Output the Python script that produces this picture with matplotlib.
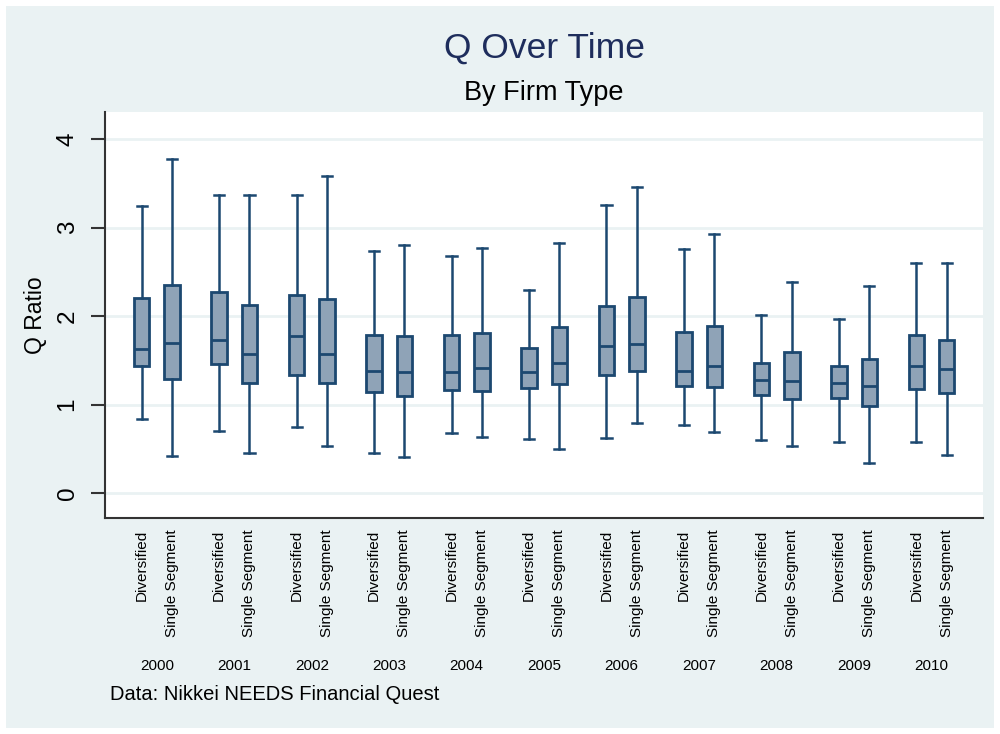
import matplotlib
matplotlib.use("Agg")
import matplotlib.pyplot as plt
from matplotlib.patches import Rectangle

plt.rcParams['font.family'] = ['Liberation Sans', 'DejaVu Sans']

years = ["2000", "2001", "2002", "2003", "2004", "2005",
         "2006", "2007", "2008", "2009", "2010"]
groups = ["Diversified", "Single Segment"]

# box stats: lower whisker, Q1, median, Q3, upper whisker
div_lo = [0.84, 0.70, 0.75, 0.46, 0.68, 0.61, 0.62, 0.77, 0.60, 0.58, 0.58]
div_q1 = [1.44, 1.46, 1.34, 1.14, 1.17, 1.19, 1.34, 1.21, 1.11, 1.08, 1.18]
div_med = [1.63, 1.73, 1.78, 1.38, 1.37, 1.37, 1.66, 1.38, 1.28, 1.25, 1.44]
div_q3 = [2.20, 2.27, 2.24, 1.79, 1.79, 1.64, 2.11, 1.82, 1.47, 1.44, 1.79]
div_hi = [3.24, 3.37, 3.37, 2.74, 2.68, 2.30, 3.26, 2.76, 2.01, 1.97, 2.60]

ss_lo = [0.42, 0.45, 0.53, 0.41, 0.63, 0.50, 0.79, 0.69, 0.53, 0.34, 0.43]
ss_q1 = [1.29, 1.24, 1.25, 1.10, 1.16, 1.23, 1.38, 1.20, 1.06, 0.98, 1.13]
ss_med = [1.70, 1.57, 1.57, 1.37, 1.41, 1.47, 1.68, 1.44, 1.27, 1.21, 1.40]
ss_q3 = [2.35, 2.13, 2.19, 1.78, 1.81, 1.88, 2.22, 1.89, 1.59, 1.52, 1.73]
ss_hi = [3.77, 3.37, 3.58, 2.80, 2.77, 2.83, 3.46, 2.93, 2.39, 2.34, 2.60]

bg = "#eaf2f3"
navy = "#1c4870"
fill = "#8fa3b7"

fig = plt.figure(figsize=(10, 7.34), dpi=100)
fig.patch.set_facecolor("white")
fig.patches.append(Rectangle((0.006, 0.008), 0.988, 0.984, transform=fig.transFigure,
                             facecolor=bg, edgecolor="none", zorder=-10))

ax = fig.add_axes([0.105, 0.2939, 0.8783, 0.553])
ax.set_facecolor("white")

stats, pos = [], []
for i in range(len(years)):
    stats.append(dict(whislo=div_lo[i], q1=div_q1[i], med=div_med[i],
                      q3=div_q3[i], whishi=div_hi[i], fliers=[]))
    pos.append(i - 0.196)
    stats.append(dict(whislo=ss_lo[i], q1=ss_q1[i], med=ss_med[i],
                      q3=ss_q3[i], whishi=ss_hi[i], fliers=[]))
    pos.append(i + 0.196)

ax.bxp(stats, positions=pos, widths=0.2, capwidths=0.13, patch_artist=True,
       showfliers=False,
       boxprops=dict(facecolor=fill, edgecolor=navy, linewidth=2),
       medianprops=dict(color=navy, linewidth=2),
       whiskerprops=dict(color=navy, linewidth=1.8),
       capprops=dict(color=navy, linewidth=1.8))

ax.set_xlim(-0.669, 10.668)
ax.set_ylim(-0.282, 4.30)
ax.set_yticks([0, 1, 2, 3, 4])
ax.set_yticklabels(["0", "1", "2", "3", "4"], rotation=90, va="center", fontsize=17.5)
ax.yaxis.grid(True, color=bg, linewidth=2)
ax.set_axisbelow(True)
ax.tick_params(axis="y", length=10, width=1.5, color="#333333", pad=9)

ax.set_xticks(pos)
ax.set_xticklabels(groups * len(years), rotation=90, fontsize=11)
ax.tick_params(axis="x", length=0, pad=8)

for s in ["top", "right"]:
    ax.spines[s].set_visible(False)
for s in ["left", "bottom"]:
    ax.spines[s].set_color("#333333")
    ax.spines[s].set_linewidth(1.5)

for i, y in enumerate(years):
    ax.text(i, -0.3638, y, transform=ax.get_xaxis_transform(),
            ha="center", va="center", fontsize=11)

ax.set_ylabel("Q Ratio", fontsize=16.5, labelpad=7)

fig.text(0.544, 0.921, "Q Over Time", ha="center", va="baseline",
         fontsize=25.5, color="#1e2d5c")
fig.text(0.544, 0.8638, "By Firm Type", ha="center", va="baseline", fontsize=19.5)
fig.text(0.110, 0.0463, "Data: Nikkei NEEDS Financial Quest", ha="left",
         va="baseline", fontsize=14.5)

fig.savefig("out.png", dpi=100, facecolor=fig.get_facecolor())
